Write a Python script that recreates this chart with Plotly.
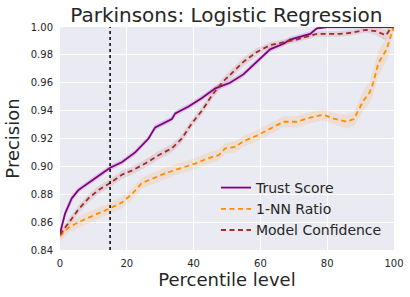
import plotly.graph_objects as go

# Trust Score
ts_x = [0, 1.5, 3.5, 5.5, 8.5, 11.5, 15, 18.5, 22.5, 26.5, 28.5, 33.5, 34.5, 38.5, 42.5, 46.5, 50.9, 54.9, 58.9, 62.9, 66.9, 68.9, 74.9, 76.9, 80, 85, 90, 93.7, 96, 100]
ts_y = [0.852, 0.866, 0.877, 0.883, 0.888, 0.893, 0.899, 0.903, 0.910, 0.920, 0.928, 0.934, 0.938, 0.943, 0.949, 0.956, 0.960, 0.966, 0.975, 0.984, 0.988, 0.991, 0.995, 0.999, 1.0, 1.0, 1.0, 1.0, 1.0, 1.0]
ts_err = [0.003, 0.003, 0.003, 0.002, 0.002, 0.002, 0.002, 0.002, 0.002, 0.002, 0.002, 0.002, 0.002, 0.002, 0.002, 0.002, 0.002, 0.002, 0.002, 0.002, 0.002, 0.002, 0.002, 0.001, 0.001, 0.001, 0.001, 0.001, 0.001, 0.001]

# 1-NN Ratio
nn_x = [0, 2.5, 5.5, 8.5, 11.5, 15, 18.5, 21.5, 24.5, 27.5, 31.5, 36.5, 40.5, 44.5, 47.5, 49.5, 52.5, 54.9, 58.9, 62.9, 66.9, 70.9, 74.9, 78.9, 80.9, 82.3, 85.8, 88, 89.3, 90.8, 92.7, 93.8, 95.3, 97.8, 98.8, 100]
nn_y = [0.850, 0.856, 0.860, 0.863, 0.866, 0.870, 0.874, 0.880, 0.888, 0.891, 0.895, 0.899, 0.902, 0.906, 0.908, 0.913, 0.914, 0.918, 0.922, 0.927, 0.932, 0.932, 0.935, 0.937, 0.935, 0.934, 0.932, 0.934, 0.940, 0.947, 0.953, 0.960, 0.974, 0.984, 0.992, 1.0]
nn_err = [0.004, 0.004, 0.004, 0.004, 0.004, 0.004, 0.004, 0.004, 0.004, 0.004, 0.004, 0.004, 0.004, 0.004, 0.004, 0.004, 0.004, 0.004, 0.004, 0.004, 0.004, 0.004, 0.004, 0.004, 0.004, 0.004, 0.005, 0.005, 0.006, 0.007, 0.008, 0.009, 0.009, 0.008, 0.005, 0.002]

# Model Confidence
mc_x = [0, 2.5, 5.5, 8.5, 11.5, 15, 18.5, 21.5, 25.5, 29.5, 33.5, 36.5, 39.5, 42.5, 45.5, 48.5, 51.5, 54.9, 58.9, 62.9, 66.9, 70.9, 76.9, 83.7, 87.6, 91.6, 94.6, 97.6, 99, 100]
mc_y = [0.851, 0.859, 0.869, 0.877, 0.883, 0.888, 0.894, 0.897, 0.902, 0.908, 0.913, 0.920, 0.931, 0.940, 0.951, 0.960, 0.967, 0.975, 0.982, 0.987, 0.989, 0.991, 0.995, 0.995, 0.996, 0.998, 0.997, 0.994, 0.999, 1.0]
mc_err = [0.003, 0.003, 0.003, 0.003, 0.003, 0.003, 0.003, 0.003, 0.003, 0.003, 0.003, 0.003, 0.003, 0.003, 0.003, 0.003, 0.003, 0.003, 0.003, 0.002, 0.002, 0.002, 0.002, 0.002, 0.002, 0.002, 0.003, 0.004, 0.002, 0.001]

cutoff = 15

series = [
    ("Trust Score", ts_x, ts_y, ts_err, "#800080", "rgba(128,0,128,0.15)", "solid"),
    ("1-NN Ratio", nn_x, nn_y, nn_err, "#ff8c00", "rgba(255,140,0,0.12)", "5px,3.5px"),
    ("Model Confidence", mc_x, mc_y, mc_err, "#a52a2a", "rgba(165,42,42,0.12)", "5px,3.5px"),
]

fig = go.Figure()
for name, x, y, e, col, fill, dash in series:
    lo = [a - b for a, b in zip(y, e)]
    hi = [a + b for a, b in zip(y, e)]
    fig.add_trace(go.Scatter(x=x + x[::-1], y=hi + lo[::-1], fill="toself",
                             fillcolor=fill, line=dict(width=0), hoverinfo="skip",
                             showlegend=False))
for name, x, y, e, col, fill, dash in series:
    fig.add_trace(go.Scatter(x=x, y=y, mode="lines", name=name,
                             line=dict(color=col, width=1.8, dash=dash)))

fig.add_shape(type="line", x0=cutoff, x1=cutoff, y0=0, y1=1, yref="paper",
              line=dict(color="black", width=1.5, dash="dot"))

fig.update_layout(
    width=410, height=297,
    margin=dict(l=60, r=16, t=27, b=47),
    paper_bgcolor="white", plot_bgcolor="#EAEAF2",
    font=dict(family="DejaVu Sans", color="#262626"),
    title=dict(text="Parkinsons: Logistic Regression", x=0.552, xanchor="center",
               y=0.948, yanchor="middle", font=dict(size=20, color="#262626")),
    xaxis=dict(range=[0, 100], tickvals=[0, 20, 40, 60, 80, 100], showgrid=True,
               gridcolor="white", gridwidth=1, zeroline=False, showline=False,
               automargin=False, ticks="outside", ticklen=4, tickcolor="rgba(0,0,0,0)",
               tickfont=dict(size=10, color="#262626"),
               title=dict(text="Percentile level", font=dict(size=18), standoff=4)),
    yaxis=dict(range=[0.84, 1.0], tickvals=[0.84, 0.86, 0.88, 0.90, 0.92, 0.94, 0.96, 0.98, 1.00],
               tickformat=".2f", showgrid=True, gridcolor="white", gridwidth=1,
               zeroline=False, showline=False,
               automargin=False, ticks="outside", ticklen=4, tickcolor="rgba(0,0,0,0)",
               tickfont=dict(size=10, color="#262626"),
               title=dict(text="Precision", font=dict(size=18), standoff=6)),
    legend=dict(x=0.467, y=0.018, xanchor="left", yanchor="bottom",
                bgcolor="rgba(0,0,0,0)", font=dict(size=14, color="#262626"),
                itemwidth=30, tracegroupgap=0),
    showlegend=True,
)

fig.write_html("out.html", config={"displayModeBar": False},
               post_script="document.body.style.margin='0';document.body.style.padding='0';")
